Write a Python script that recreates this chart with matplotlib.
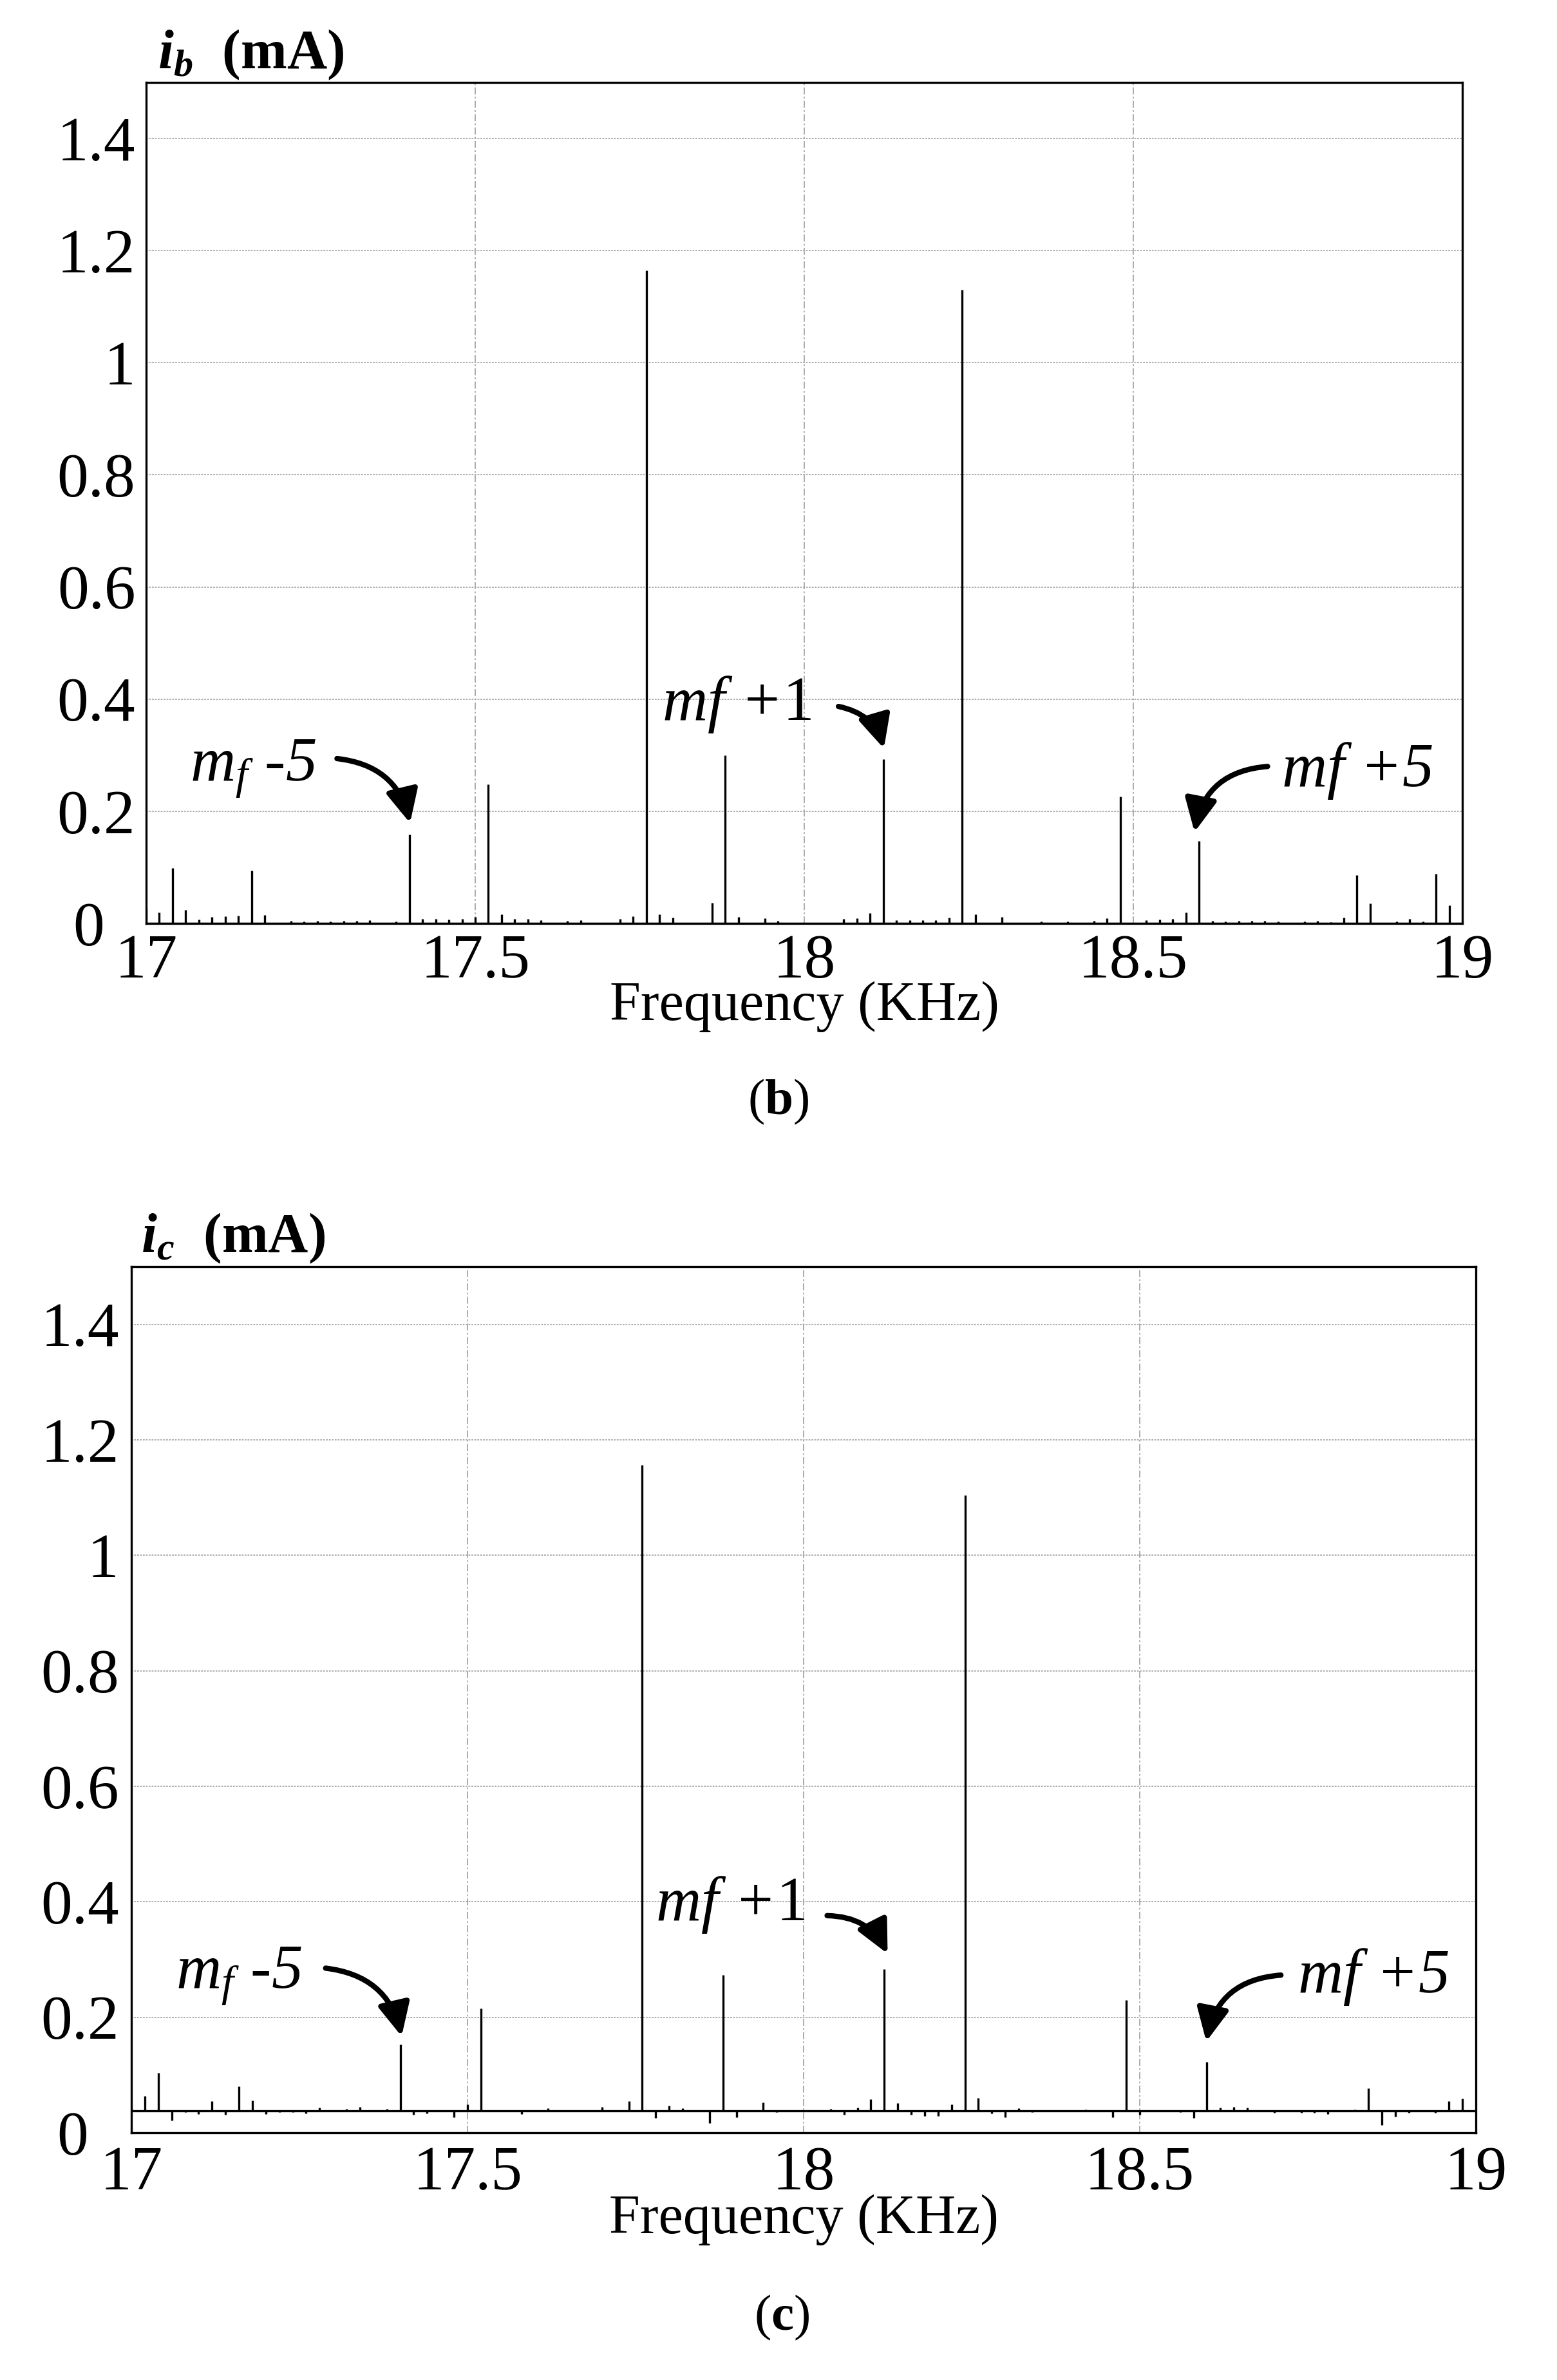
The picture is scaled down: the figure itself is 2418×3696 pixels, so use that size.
import matplotlib
matplotlib.use('Agg')
import matplotlib.pyplot as plt
from matplotlib.patches import FancyArrowPatch, ArrowStyle
from matplotlib.transforms import ScaledTranslation

plt.rcParams['font.family'] = ['Liberation Serif', 'DejaVu Serif']
plt.rcParams['mathtext.fontset'] = 'custom'
plt.rcParams['mathtext.rm'] = 'Liberation Serif'
plt.rcParams['mathtext.it'] = 'Liberation Serif:italic'
plt.rcParams['mathtext.bf'] = 'Liberation Serif:bold'
plt.rcParams['mathtext.bfit'] = 'Liberation Serif:italic:bold'

# ---------------- data ----------------
# panel (b): spectrum lines (frequency in kHz, amplitude in mA)
freq_b = [17.00, 17.02, 17.04, 17.06, 17.08, 17.10, 17.12, 17.14, 17.16, 17.18,
          17.22, 17.24, 17.26, 17.28, 17.30, 17.32, 17.34, 17.38, 17.40, 17.42,
          17.44, 17.46, 17.48, 17.50, 17.52, 17.54, 17.56, 17.58, 17.60, 17.64,
          17.66, 17.72, 17.74, 17.76, 17.78, 17.80, 17.86, 17.88, 17.90, 17.94,
          17.96, 18.06, 18.08, 18.10, 18.12, 18.14, 18.16, 18.18, 18.20, 18.22,
          18.24, 18.26, 18.30, 18.36, 18.40, 18.44, 18.46, 18.48, 18.52, 18.54,
          18.56, 18.58, 18.60, 18.62, 18.64, 18.66, 18.68, 18.70, 18.72, 18.76,
          18.78, 18.80, 18.82, 18.84, 18.86, 18.90, 18.92, 18.94, 18.96, 18.98]
amp_b = [0.026, 0.020, 0.099, 0.024, 0.007, 0.011, 0.013, 0.014, 0.094, 0.015,
         0.005, 0.004, 0.005, 0.004, 0.005, 0.005, 0.006, 0.004, 0.158, 0.008,
         0.008, 0.007, 0.008, 0.012, 0.248, 0.016, 0.008, 0.008, 0.006, 0.005,
         0.006, 0.008, 0.013, 1.165, 0.016, 0.010, 0.037, 0.300, 0.011, 0.009,
         0.005, 0.008, 0.009, 0.018, 0.293, 0.006, 0.006, 0.006, 0.006, 0.010,
         1.130, 0.016, 0.011, 0.003, 0.003, 0.005, 0.009, 0.226, 0.006, 0.007,
         0.008, 0.019, 0.147, 0.005, 0.003, 0.005, 0.005, 0.005, 0.003, 0.003,
         0.005, 0.002, 0.010, 0.086, 0.036, 0.003, 0.008, 0.004, 0.088, 0.032]
baseline_b = 0.0

# panel (c)
freq_c = [17.00, 17.02, 17.04, 17.06, 17.08, 17.10, 17.12, 17.14, 17.16, 17.18,
          17.20, 17.22, 17.24, 17.26, 17.28, 17.32, 17.34, 17.38, 17.40, 17.42,
          17.44, 17.48, 17.50, 17.52, 17.58, 17.62, 17.70, 17.74, 17.76, 17.78,
          17.80, 17.82, 17.86, 17.88, 17.90, 17.94, 17.96, 18.04, 18.06, 18.08,
          18.10, 18.12, 18.14, 18.16, 18.18, 18.20, 18.22, 18.24, 18.26, 18.28,
          18.30, 18.32, 18.34, 18.42, 18.46, 18.48, 18.50, 18.56, 18.58, 18.60,
          18.62, 18.64, 18.66, 18.70, 18.72, 18.74, 18.76, 18.78, 18.82, 18.84,
          18.86, 18.88, 18.90, 18.94, 18.96, 18.98]
amp_c = [0.043, 0.064, 0.104, 0.021, 0.036, 0.032, 0.055, 0.031, 0.080, 0.056,
         0.032, 0.036, 0.036, 0.034, 0.043, 0.041, 0.045, 0.041, 0.153, 0.031,
         0.033, 0.027, 0.049, 0.215, 0.032, 0.042, 0.045, 0.055, 1.156, 0.026,
         0.047, 0.042, 0.017, 0.273, 0.027, 0.052, 0.036, 0.041, 0.031, 0.043,
         0.058, 0.283, 0.051, 0.031, 0.029, 0.029, 0.049, 1.104, 0.060, 0.033,
         0.027, 0.042, 0.036, 0.040, 0.027, 0.230, 0.031, 0.036, 0.026, 0.123,
         0.043, 0.045, 0.043, 0.035, 0.039, 0.035, 0.035, 0.032, 0.040, 0.077,
         0.013, 0.028, 0.035, 0.035, 0.055, 0.059]
baseline_c = 0.038

xticks = [17, 17.5, 18, 18.5, 19]
xticklabels = ['17', '17.5', '18', '18.5', '19']
yticks = [0, 0.2, 0.4, 0.6, 0.8, 1.0, 1.2, 1.4]
yticklabels = ['0', '0.2', '0.4', '0.6', '0.8', '1', '1.2', '1.4']

ylabels = [r'$\mathbfit{i}_{\mathbfit{b}}$  (mA)', r'$\mathbfit{i}_{\mathbfit{c}}$  (mA)']
panel_tags = [r'($\mathbf{b}$)', r'($\mathbf{c}$)']
xlabel = 'Frequency (KHz)'

# annotations: (text, text_xy, arrow_tail, arrow_tip, rad)
notes_b = [(r'$m_f$ -5', (17.067, 0.255), (17.290, 0.294), (17.401, 0.179), -0.35),
           (r'$mf$ +$\mathit{1}$', (17.784, 0.363), (18.052, 0.387), (18.121, 0.312), -0.3),
           (r'$mf$ +5', (18.725, 0.245), (18.704, 0.280), (18.593, 0.163), 0.38)]
notes_c = [(r'$m_f$ -5', (17.066, 0.251), (17.289, 0.285), (17.402, 0.167), -0.35),
           (r'$mf$ +$\mathit{1}$', (17.780, 0.368), (18.035, 0.376), (18.125, 0.310), -0.3),
           (r'$mf$ +5', (18.735, 0.243), (18.710, 0.273), (18.599, 0.158), 0.38)]

# ---------------- figure ----------------
W, H = 2418, 3696
fig = plt.figure(figsize=(W / 100, H / 100), dpi=100)
fig.patch.set_facecolor('white')

ax1 = fig.add_axes([227 / W, 1 - 1434 / H, (2271 - 227) / W, (1434 - 128) / H])
ax2 = fig.add_axes([204 / W, 1 - 3312 / H, (2292 - 204) / W, (3312 - 1967) / H])

panels = [(ax1, freq_b, amp_b, baseline_b, notes_b, ylabels[0], panel_tags[0],
           (245, 106), (1209, 1711), 12, 12, -0.1145),
          (ax2, freq_c, amp_c, baseline_c, notes_c, ylabels[1], panel_tags[1],
           (219, 1944), (1214, 3599), 14, 15, -0.1160)]

for ax, fr, am, base, notes, ylab, tag, ylab_pos, tag_pos, ypad, xpad, xl_y in panels:
    ax.set_xlim(17, 19)
    ax.set_ylim(0, 1.5)
    ax.set_axisbelow(True)
    # baseline trace and spectral lines
    ax.plot([17, 19], [base, base], color='black', lw=2.4, solid_capstyle='butt', zorder=3)
    ax.vlines(fr, base, am, color='black', lw=2.4, zorder=3)

    ax.set_xticks(xticks)
    ax.set_xticklabels(xticklabels)
    ax.set_yticks(yticks)
    ax.set_yticklabels(yticklabels)
    ax.tick_params(axis='both', length=0, labelsize=70)
    ax.tick_params(axis='y', pad=ypad)
    ax.tick_params(axis='x', pad=xpad)
    # the "0" label sits further left, below-left of the corner
    zero_lab = ax.get_yticklabels()[0]
    zero_lab.set_transform(zero_lab.get_transform() +
                           ScaledTranslation(-0.48, 0, fig.dpi_scale_trans))

    ax.xaxis.grid(True, color='#a6a6a6', lw=1.3, linestyle=(0, (6, 2, 1.5, 2)))
    ax.yaxis.grid(True, color='#a6a6a6', lw=1.3, linestyle=(0, (1.5, 1)))
    for sp in ax.spines.values():
        sp.set_linewidth(2.4)
        sp.set_color('black')

    ax.set_xlabel(xlabel, fontsize=62, va='baseline')
    ax.xaxis.set_label_coords(0.5, xl_y)

    for txt, txy, tail, tip, rad in notes:
        ax.text(txy[0], txy[1], txt, fontsize=70, fontstyle='italic',
                ha='left', va='baseline', zorder=5)
        arr = FancyArrowPatch(tail, tip, connectionstyle=f'arc3,rad={rad}',
                              arrowstyle=ArrowStyle('-|>', head_length=31, head_width=15),
                              mutation_scale=1, lw=6, color='black',
                              shrinkA=0, shrinkB=0, zorder=5)
        ax.add_patch(arr)

    fig.text(ylab_pos[0] / W, 1 - ylab_pos[1] / H, ylab, fontsize=62,
             fontweight='bold', ha='left', va='baseline')
    fig.text(tag_pos[0] / W, 1 - tag_pos[1] / H, tag, fontsize=57,
             ha='center', va='center')

fig.savefig('out.png', dpi=100, facecolor='white')
